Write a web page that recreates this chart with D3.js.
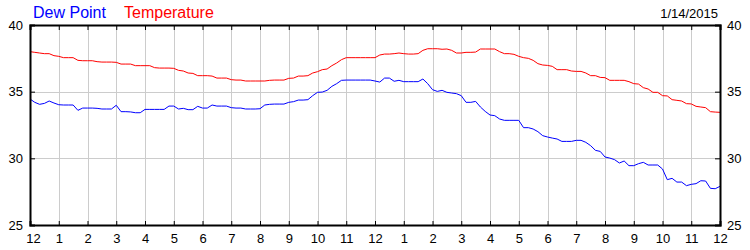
<!DOCTYPE html>
<html>
<head>
<meta charset="utf-8">
<script src="https://cdn.jsdelivr.net/npm/d3@7"></script>
<style>
  body { margin: 0; background: #fff; }
  svg { display: block; font-family: "Liberation Sans", Arial, sans-serif; }
  .grid line { stroke: #cccccc; stroke-width: 1; }
  .axis path, .axis line { stroke: #000; }
  .axis text { font-size: 13px; fill: #000; }
</style>
</head>
<body>
<svg id="chart" width="750" height="250"></svg>
<script>
// readings every 10 minutes, midnight to midnight, 1/14/2015
const chartDate = '1/14/2015';
const stepMinutes = 10;

const temperature = [
  38.0, 37.95, 37.9, 37.85, 37.85, 37.7, 37.65, 37.55, 37.55, 37.55, 37.35, 37.32,
  37.32, 37.32, 37.25, 37.22, 37.22, 37.22, 37.2, 37.07, 37.07, 37.07, 36.95, 36.95,
  36.95, 36.95, 36.8, 36.77, 36.77, 36.77, 36.75, 36.6, 36.55, 36.4, 36.37, 36.2,
  36.2, 36.2, 36.17, 36.02, 36.02, 36.02, 35.9, 35.87, 35.87, 35.8, 35.8, 35.8,
  35.8, 35.8, 35.85, 35.87, 35.87, 35.87, 36.0, 36.02, 36.17, 36.17, 36.2, 36.4,
  36.5, 36.65, 36.7, 36.95, 37.15, 37.4, 37.55, 37.55, 37.55, 37.55, 37.55, 37.55,
  37.55, 37.75, 37.82, 37.82, 37.85, 37.9, 37.85, 37.82, 37.82, 37.85, 38.1, 38.22,
  38.22, 38.22, 38.18, 38.2, 38.1, 37.9, 37.9, 37.95, 37.95, 37.97, 38.2, 38.2,
  38.2, 38.2, 38.0, 37.85, 37.85, 37.8, 37.65, 37.55, 37.5, 37.35, 37.1, 37.0,
  36.97, 36.9, 36.65, 36.65, 36.65, 36.55, 36.52, 36.52, 36.4, 36.2, 36.2, 36.07,
  36.05, 35.85, 35.85, 35.85, 35.85, 35.75, 35.6, 35.57, 35.3, 35.2, 34.95, 34.95,
  34.7, 34.68, 34.4, 34.35, 34.3, 34.1, 34.08, 33.9, 33.85, 33.8, 33.5, 33.47,
  33.45
];

const dewPoint = [
  34.45, 34.2, 34.05, 34.12, 34.3, 34.15, 34.02, 34.0, 34.0, 34.0, 33.6, 33.77,
  33.77, 33.77, 33.75, 33.7, 33.7, 33.7, 33.98, 33.5, 33.5, 33.48, 33.42, 33.42,
  33.67, 33.67, 33.67, 33.67, 33.67, 33.92, 33.92, 33.7, 33.75, 33.65, 33.65, 33.9,
  33.77, 33.77, 34.0, 33.92, 33.92, 33.92, 33.8, 33.77, 33.77, 33.7, 33.7, 33.7,
  33.72, 34.0, 34.05, 34.07, 34.07, 34.07, 34.2, 34.25, 34.37, 34.37, 34.4, 34.7,
  34.95, 34.97, 35.1, 35.4, 35.6, 35.85, 35.87, 35.87, 35.87, 35.87, 35.87, 35.87,
  35.8, 35.72, 36.02, 36.02, 35.78, 35.85, 35.75, 35.75, 35.75, 35.75, 35.95, 35.6,
  35.15, 35.02, 35.1, 34.95, 34.9, 34.85, 34.7, 34.2, 34.2, 34.27, 33.85, 33.52,
  33.25, 33.2, 32.95, 32.85, 32.85, 32.85, 32.85, 32.3, 32.3, 32.2, 32.0, 31.7,
  31.6, 31.52, 31.45, 31.27, 31.27, 31.27, 31.35, 31.35, 31.2, 30.95, 30.6, 30.52,
  30.1, 30.02, 29.9, 29.65, 29.8, 29.45, 29.45, 29.6, 29.7, 29.5, 29.5, 29.5,
  29.2, 28.4, 28.5, 28.22, 28.22, 27.95, 28.05, 28.1, 28.32, 28.3, 27.75, 27.72,
  27.9
];

const hourTicks = d3.range(0, 25);
const valueTicks = [25, 30, 35, 40];
const gridValues = [30, 35];

const series = [
  { name: 'Dew Point', color: '#0000ff', values: dewPoint },
  { name: 'Temperature', color: '#ff0000', values: temperature }
];

const plotLeft = 30, plotRight = 720, plotTop = 25, plotBottom = 225;
const svg = d3.select('#chart');

const x = d3.scaleLinear().domain([0, 24]).range([plotLeft, plotRight]);
const y = d3.scaleLinear().domain([25, 40]).range([plotBottom, plotTop]);

const hourLabel = h => (h % 12 === 0 ? 12 : h % 12);

// grid
const grid = svg.append('g').attr('class', 'grid');
grid.selectAll('line.v')
  .data(hourTicks.slice(1, -1))
  .enter().append('line')
  .attr('class', 'v')
  .attr('x1', d => Math.round(x(d)) + 0.5).attr('x2', d => Math.round(x(d)) + 0.5)
  .attr('y1', plotTop).attr('y2', plotBottom);
grid.selectAll('line.h')
  .data(gridValues)
  .enter().append('line')
  .attr('class', 'h')
  .attr('x1', plotLeft).attr('x2', plotRight)
  .attr('y1', d => Math.round(y(d)) + 0.5).attr('y2', d => Math.round(y(d)) + 0.5);

// lines
const line = d3.line()
  .x((d, i) => x(i * stepMinutes / 60))
  .y(d => y(d));

svg.selectAll('path.series')
  .data(series)
  .enter().append('path')
  .attr('class', 'series')
  .attr('fill', 'none')
  .attr('stroke', s => s.color)
  .attr('stroke-width', 1)
  .attr('d', s => line(s.values));

// axes
const bottomAxis = svg.append('g')
  .attr('class', 'axis')
  .attr('transform', `translate(0,${plotBottom})`)
  .call(d3.axisBottom(x).tickValues(hourTicks).tickSize(-4).tickPadding(9)
    .tickFormat(hourLabel));
bottomAxis.selectAll('.tick').filter(d => d === 0).select('text').attr('dx', 3);

svg.append('g')
  .attr('class', 'axis')
  .attr('transform', `translate(0,${plotTop})`)
  .call(d3.axisTop(x).tickValues(hourTicks).tickSize(-5).tickFormat(''));

svg.append('g')
  .attr('class', 'axis')
  .attr('transform', `translate(${plotLeft},0)`)
  .call(d3.axisLeft(y).tickValues(valueTicks).tickSize(-5).tickPadding(7));

svg.append('g')
  .attr('class', 'axis')
  .attr('transform', `translate(${plotRight},0)`)
  .call(d3.axisRight(y).tickValues(valueTicks).tickSize(-5).tickPadding(7));

svg.selectAll('.axis path').attr('stroke-width', 2);

// legend and date
svg.selectAll('text.legend')
  .data(series)
  .enter().append('text')
  .attr('class', 'legend')
  .attr('x', (s, i) => [33, 124][i])
  .attr('y', 17.5)
  .attr('fill', s => s.color)
  .style('font-size', '16px')
  .text(s => s.name);

svg.append('text')
  .attr('x', 718)
  .attr('y', 17.5)
  .attr('text-anchor', 'end')
  .style('font-size', '13px')
  .text(chartDate);
</script>
</body>
</html>
